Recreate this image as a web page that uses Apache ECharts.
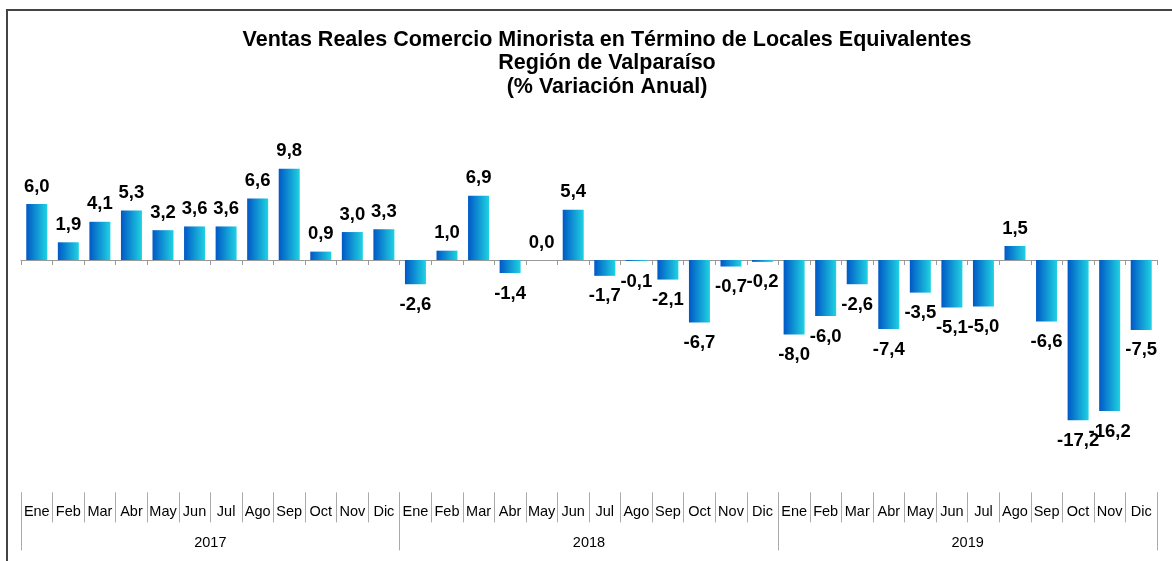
<!DOCTYPE html>
<html>
<head>
<meta charset="utf-8">
<script src="https://cdn.jsdelivr.net/npm/echarts@6/dist/echarts.min.js"></script>
<style>
    html, body { margin: 0; padding: 0; background: #fff; }
    .main { width: 1172px; height: 561px; }
</style>
</head>
<body>
<div class="main"></div>
<script>
// datos
var meses = ['Ene', 'Feb', 'Mar', 'Abr', 'May', 'Jun', 'Jul', 'Ago', 'Sep', 'Oct', 'Nov', 'Dic'];
var anios = ['2017', '2018', '2019'];
var v2017 = [6.0, 1.9, 4.1, 5.3, 3.2, 3.6, 3.6, 6.6, 9.8, 0.9, 3.0, 3.3];
var v2018 = [-2.6, 1.0, 6.9, -1.4, 0.0, 5.4, -1.7, -0.1, -2.1, -6.7, -0.7, -0.2];
var v2019 = [-8.0, -6.0, -2.6, -7.4, -3.5, -5.1, -5.0, 1.5, -6.6, -17.2, -16.2, -7.5];

var valores = v2017.concat(v2018, v2019);
var categorias = [];
var etiquetasMes = [];
anios.forEach(function (a) {
    meses.forEach(function (m) {
        categorias.push(m + ' ' + a);
        etiquetasMes.push(m);
    });
});

var datos = valores.map(function (v) {
    return {
        value: v,
        label: v < 0 ? { position: 'bottom', distance: 11 } : { position: 'top', distance: 8 }
    };
});

var myChart = echarts.init(document.querySelector('.main'));
var fuente = 'Arial, "Liberation Sans", sans-serif';
var option = {
    backgroundColor: '#fff',
    animation: false,
    title: {
        text: 'Ventas Reales Comercio Minorista en Término de Locales Equivalentes\nRegión de Valparaíso\n(% Variación Anual)',
        left: 602,
        top: 23,
        textAlign: 'center',
        textStyle: {
            fontFamily: fuente,
            fontSize: 21.5,
            fontWeight: 'bold',
            color: '#000',
            lineHeight: 23.5
        }
    },
    graphic: [{
        type: 'rect',
        shape: { x: 7, y: 10, width: 1300, height: 700 },
        style: { fill: 'none', stroke: '#444', lineWidth: 2 },
        silent: true
    }],
    grid: {
        left: 21,
        right: 15,
        top: 166.8,
        bottom: 114.6
    },
    xAxis: [
        {
            type: 'category',
            data: categorias,
            axisLine: { onZero: true, lineStyle: { color: '#999', width: 1 } },
            axisTick: { show: true, length: 5, interval: 0, lineStyle: { color: '#999' } },
            axisLabel: { show: false }
        },
        {
            type: 'category',
            data: etiquetasMes,
            position: 'bottom',
            offset: 46,
            axisLine: { show: false, onZero: false },
            axisTick: { show: true, length: 30, interval: 0, lineStyle: { color: '#aaa' } },
            axisLabel: { interval: 0, margin: 12, fontFamily: fuente, fontSize: 14.5, color: '#000' }
        },
        {
            type: 'category',
            data: anios,
            position: 'bottom',
            offset: 46,
            axisLine: { show: false, onZero: false },
            axisTick: { show: true, length: 58, interval: 0, lineStyle: { color: '#aaa' } },
            axisLabel: { interval: 0, margin: 43, fontFamily: fuente, fontSize: 14.5, color: '#000' }
        }
    ],
    yAxis: {
        type: 'value',
        min: -20,
        max: 10,
        show: false
    },
    series: [
        {
            type: 'bar',
            xAxisIndex: 0,
            data: datos,
            barWidth: 21,
            itemStyle: {
                color: new echarts.graphic.LinearGradient(0, 0, 1, 0, [
                    { offset: 0, color: '#0058c6' },
                    { offset: 1, color: '#20d2e2' }
                ])
            },
            label: {
                show: true,
                fontFamily: fuente,
                fontSize: 18.5,
                fontWeight: 'bold',
                color: '#000',
                formatter: function (p) {
                    return p.value.toFixed(1).replace('.', ',');
                }
            }
        }
    ]
};
myChart.setOption(option);

window.addEventListener('resize', function () {
    myChart.resize();
});
</script>
</body>
</html>
